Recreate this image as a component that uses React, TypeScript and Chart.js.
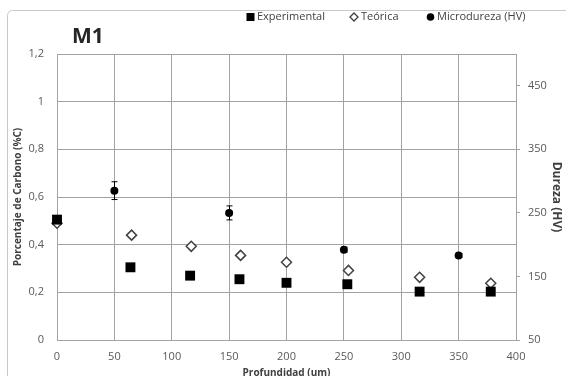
import React, { useEffect, useRef } from "react";
import { Chart, registerables } from "chart.js";

Chart.register(...registerables);

// ---- data ----
const expX = [0, 64, 116, 159, 200, 253, 316, 378];
const expY = [0.505, 0.305, 0.27, 0.255, 0.24, 0.234, 0.203, 0.203];
const teoX = [0, 65, 117, 160, 200, 254, 316, 378];
const teoY = [0.49, 0.44, 0.393, 0.355, 0.326, 0.292, 0.263, 0.238];
const hvX = [50, 150, 250, 350];
const hvY = [285, 250, 192, 183];
const hvErr = [14, 11, 4, 3];

const xTicks = [0, 50, 100, 150, 200, 250, 300, 350, 400];
const yTicks = [0, 0.2, 0.4, 0.6, 0.8, 1, 1.2];
const yTickLabels = ["0", "0,2", "0,4", "0,6", "0,8", "1", "1,2"];
const hvTicks = [50, 150, 250, 350, 450];

const seriesNames = ["Experimental", "Teórica", "Microdureza (HV)"];
const chartTitle = "M1";
const xTitle = "Profundidad (um)";
const yTitle = "Porcentaje de Carbono (%C)";
const y1Title = "Dureza (HV)";

const FONT = "'Open Sans', 'DejaVu Sans', sans-serif";
const GRID = "#a3a3a3";
const TXT = "#404040";
const TICK = "#595959";

const decorPlugin = {
  id: "decor",
  beforeDraw(chart: any) {
    const ctx = chart.ctx;
    ctx.save();
    ctx.fillStyle = "#ffffff";
    ctx.fillRect(0, 0, chart.width, chart.height);
    ctx.strokeStyle = "#c8c8c8";
    ctx.lineWidth = 1;
    ctx.beginPath();
    if (ctx.roundRect) ctx.roundRect(7.5, 10.5, 700, 500, 5);
    else ctx.rect(7.5, 10.5, 700, 500);
    ctx.stroke();
    ctx.restore();
  },
  afterDraw(chart: any) {
    const ctx = chart.ctx;
    ctx.save();
    // title
    ctx.fillStyle = "#262626";
    ctx.font = `bold 21px ${FONT}`;
    ctx.textBaseline = "middle";
    ctx.textAlign = "left";
    ctx.fillText(chartTitle, 72, 37);
    // legend
    ctx.font = `11px ${FONT}`;
    const ly = 17;
    ctx.fillStyle = "#000";
    ctx.fillRect(246.5, ly - 4, 8, 8);
    ctx.fillStyle = TXT;
    ctx.fillText(seriesNames[0], 257, ly);
    ctx.strokeStyle = "#404040";
    ctx.lineWidth = 1.3;
    ctx.beginPath();
    ctx.moveTo(354, ly - 4);
    ctx.lineTo(358, ly);
    ctx.lineTo(354, ly + 4);
    ctx.lineTo(350, ly);
    ctx.closePath();
    ctx.stroke();
    ctx.fillStyle = TXT;
    ctx.fillText(seriesNames[1], 361, ly);
    ctx.fillStyle = "#000";
    ctx.beginPath();
    ctx.arc(430.5, ly, 3.8, 0, Math.PI * 2);
    ctx.fill();
    ctx.fillStyle = TXT;
    ctx.fillText(seriesNames[2], 437, ly);
    ctx.restore();
  },
};

const errorBarPlugin = {
  id: "errbars",
  afterDatasetsDraw(chart: any) {
    const ctx = chart.ctx;
    const xs = chart.scales.x;
    const ys = chart.scales.y1;
    ctx.save();
    ctx.strokeStyle = "#000";
    ctx.lineWidth = 1;
    hvX.forEach((xv, i) => {
      const px = Math.round(xs.getPixelForValue(xv)) + 0.5;
      const top = ys.getPixelForValue(hvY[i] + hvErr[i]);
      const bot = ys.getPixelForValue(hvY[i] - hvErr[i]);
      ctx.beginPath();
      ctx.moveTo(px, top);
      ctx.lineTo(px, bot);
      ctx.moveTo(px - 3, top);
      ctx.lineTo(px + 3, top);
      ctx.moveTo(px - 3, bot);
      ctx.lineTo(px + 3, bot);
      ctx.stroke();
    });
    ctx.restore();
  },
};

export default function App() {
  const ref = useRef<HTMLCanvasElement | null>(null);
  useEffect(() => {
    if (!ref.current) return;
    Chart.defaults.font.family = FONT;
    const chart = new Chart(ref.current, {
      type: "scatter",
      data: {
        datasets: [
          {
            label: seriesNames[0],
            data: expX.map((x, i) => ({ x, y: expY[i] })),
            pointStyle: "rect",
            pointRadius: 7,
            backgroundColor: "#000",
            borderColor: "#000",
            borderWidth: 0,
            yAxisID: "y",
            clip: false as any,
          },
          {
            label: seriesNames[1],
            data: teoX.map((x, i) => ({ x, y: teoY[i] })),
            pointStyle: "rectRot",
            pointRadius: 5,
            backgroundColor: "#ffffff",
            borderColor: "#404040",
            borderWidth: 1.5,
            yAxisID: "y",
            clip: false as any,
          },
          {
            label: seriesNames[2],
            data: hvX.map((x, i) => ({ x, y: hvY[i] })),
            pointStyle: "circle",
            pointRadius: 4,
            backgroundColor: "#000",
            borderColor: "#000",
            borderWidth: 0,
            yAxisID: "y1",
            clip: false as any,
          },
        ],
      },
      options: {
        responsive: false,
        animation: false,
        devicePixelRatio: 1,
        layout: { padding: { top: 54, left: 0, right: 0, bottom: 0 } },
        plugins: {
          legend: { display: false },
          title: { display: false },
          tooltip: { enabled: false },
        },
        scales: {
          x: {
            type: "linear",
            position: "bottom",
            min: 0,
            max: 400,
            afterBuildTicks: (axis: any) => {
              axis.ticks = xTicks.map((v) => ({ value: v }));
            },
            afterFit: (axis: any) => {
              axis.height = 46;
            },
            grid: { color: GRID, lineWidth: 1, drawTicks: false },
            border: { display: true, color: GRID },
            ticks: {
              padding: 10,
              color: TICK,
              font: { size: 11, family: FONT },
              maxRotation: 0,
              callback: (v: any) => String(v),
            },
            title: {
              display: true,
              text: xTitle,
              color: TXT,
              font: { size: 10, weight: "bold", family: FONT },
              padding: { top: 0, bottom: 7 },
            },
          },
          y: {
            type: "linear",
            position: "left",
            min: 0,
            max: 1.2,
            afterBuildTicks: (axis: any) => {
              axis.ticks = yTicks.map((v) => ({ value: v }));
            },
            afterFit: (axis: any) => {
              axis.width = 57;
            },
            grid: { color: GRID, lineWidth: 1, drawTicks: false },
            border: { display: true, color: GRID },
            ticks: {
              padding: 13,
              color: TICK,
              font: { size: 11, family: FONT },
              callback: (_v: any, i: number) => yTickLabels[i],
            },
            title: {
              display: true,
              text: yTitle,
              color: TXT,
              font: { size: 10, weight: "bold", family: FONT },
              padding: { top: 12, bottom: 0 },
            },
          },
          y1: {
            type: "linear",
            position: "right",
            min: 50,
            max: 500,
            afterBuildTicks: (axis: any) => {
              axis.ticks = hvTicks.map((v) => ({ value: v }));
            },
            afterFit: (axis: any) => {
              axis.width = 50;
            },
            grid: {
              drawOnChartArea: false,
              drawTicks: true,
              tickLength: 4,
              color: GRID,
            },
            border: { display: true, color: GRID },
            ticks: {
              padding: 8,
              color: TICK,
              font: { size: 11, family: FONT },
              callback: (v: any) => String(v),
            },
            title: {
              display: true,
              text: y1Title,
              color: TXT,
              font: { size: 12, weight: "bold", family: FONT },
              padding: { top: 2, bottom: 0 },
            },
          },
        },
      } as any,
      plugins: [decorPlugin, errorBarPlugin],
    });
    return () => chart.destroy();
  }, []);

  return (
    <div
      style={{
        position: "absolute",
        left: 0,
        top: 0,
        width: 566,
        height: 376,
        overflow: "hidden",
        background: "#fff",
      }}
    >
      <canvas
        ref={ref}
        width={566}
        height={386}
        style={{ display: "block", width: 566, height: 386 }}
      />
    </div>
  );
}
